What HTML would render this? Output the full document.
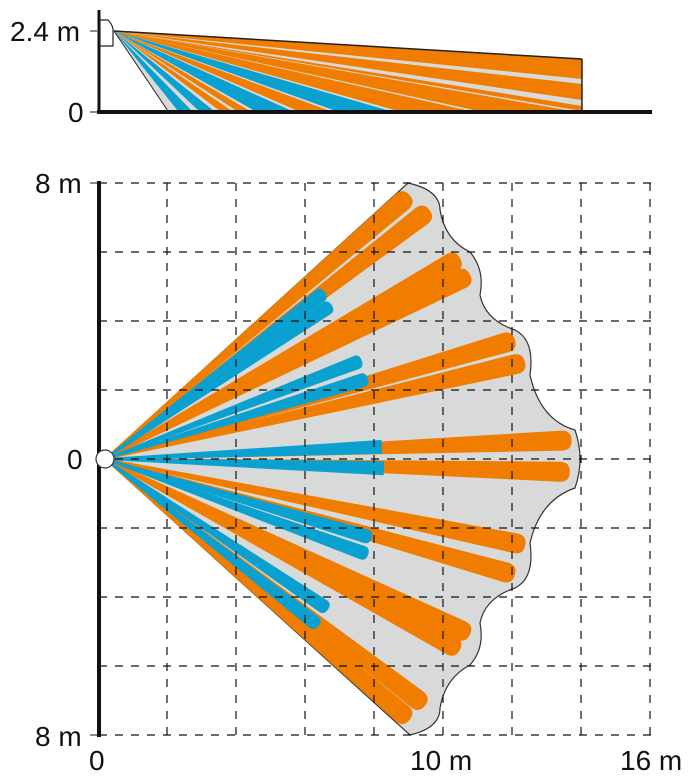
<!DOCTYPE html>
<html><head><meta charset="utf-8"><style>
html,body{margin:0;padding:0;background:#fff}
svg{display:block}
text{font-family:"Liberation Sans",sans-serif;font-size:28px;fill:#111}
</style></head><body>
<svg width="692" height="777" viewBox="0 0 692 777">
<!-- TOP ELEVATION -->
<polygon points="114,31 168,111 582,111 582,59" fill="#d8d9d9"/>
<g>
<polygon points="114,31 178,111 192,111" fill="#0aa0d0"/>
<polygon points="114,31 199,111 214,111" fill="#0aa0d0"/>
<polygon points="114,31 220,111 232,111" fill="#f07d00"/>
<polygon points="114,31 237,111 250,111" fill="#f07d00"/>
<polygon points="114,31 255,111 292,111" fill="#0aa0d0"/>
<polygon points="114,31 298,111 330,111" fill="#f07d00"/>
<polygon points="114,31 336,111 390,111" fill="#0aa0d0"/>
<polygon points="114,31 398,111 470,111" fill="#f07d00"/>
<polygon points="114,31 478,111 572,111" fill="#f07d00"/>
<polygon points="114,31 582,100 582,84" fill="#f07d00"/>
<polygon points="114,31 582,79 582,59" fill="#f07d00"/>
<polygon points="114,31 582,111 582,106" fill="#f07d00"/>
</g>
<line x1="114" y1="31" x2="582" y2="59" stroke="#222" stroke-width="1.5"/>
<line x1="114" y1="31" x2="168" y2="111" stroke="#222" stroke-width="1"/>
<line x1="582" y1="59" x2="582" y2="111" stroke="#222" stroke-width="1.5"/>
<line x1="99" y1="10" x2="99" y2="113" stroke="#111" stroke-width="3"/>
<line x1="97" y1="112" x2="652" y2="112" stroke="#111" stroke-width="4"/>
<path d="M100,20 L108,20 Q114,26 113,33 L113,46 L100,46 Z" fill="#fff" stroke="#222" stroke-width="1.2"/>
<line x1="90" y1="31" x2="97" y2="31" stroke="#111" stroke-width="1"/>
<line x1="90" y1="112" x2="97" y2="112" stroke="#111" stroke-width="1"/>
<text x="10" y="41">2.4 m</text>
<text x="68" y="122">0</text>

<!-- MAIN PLAN -->
<path d="M105,459 L408,183 Q440,190 440,210 Q445,240 470,252 Q485,270 480,295 Q485,320 515,330 Q535,340 530,375 Q540,420 575,430 Q585,459 575,488 Q540,500 530,543 Q535,578 515,588 Q485,598 480,623 Q485,648 470,665 Q445,678 440,708 Q440,728 410,735 Z" fill="#d8d9d9" stroke="#333" stroke-width="1.2"/>
<g fill="#f07d00">
<path transform="rotate(-40.9 105 459)" d="M112,458 L498,449 Q508,449 508,459 Q508,469 498,469 L112,460 Z"/>
<path transform="rotate(-37.5 105 459)" d="M112,458 L504,449 Q514,449 514,459 Q514,469 504,469 L112,460 Z"/>
<path transform="rotate(-29.5 105 459)" d="M112,458 L503,449 Q513,449 513,459 Q513,469 503,469 L112,460 Z"/>
<path transform="rotate(-26.8 105 459)" d="M112,458 L504,449 Q514,449 514,459 Q514,469 504,469 L112,460 Z"/>
<path transform="rotate(-16.2 105 459)" d="M112,458 L522,449 Q532,449 532,459 Q532,469 522,469 L112,460 Z"/>
<path transform="rotate(-13 105 459)" d="M112,458 L526,449 Q536,449 536,459 Q536,469 526,469 L112,460 Z"/>
<path transform="rotate(-2.3 105 459)" d="M112,458 L562,449 Q572,449 572,459 Q572,469 562,469 L112,460 Z"/>
<path transform="rotate(1.6 105 459)" d="M112,458 L560,449 Q570,449 570,459 Q570,469 560,469 L112,460 Z"/>
<path transform="rotate(11.6 105 459)" d="M112,458 L524,449 Q534,449 534,459 Q534,469 524,469 L112,460 Z"/>
<path transform="rotate(15.8 105 459)" d="M112,458 L521,449 Q531,449 531,459 Q531,469 521,469 L112,460 Z"/>
<path transform="rotate(25.7 105 459)" d="M112,458 L500,449 Q510,449 510,459 Q510,469 500,469 L112,460 Z"/>
<path transform="rotate(28.3 105 459)" d="M112,458 L498,449 Q508,449 508,459 Q508,469 498,469 L112,460 Z"/>
<path transform="rotate(37.6 105 459)" d="M112,458 L499,449 Q509,449 509,459 Q509,469 499,469 L112,460 Z"/>
<path transform="rotate(40.6 105 459)" d="M112,458 L496,449 Q506,449 506,459 Q506,469 496,469 L112,460 Z"/>
</g>
<g fill="#0aa0d0">
<path transform="rotate(-37.2 105 459)" d="M112,458 L375,452 Q381,452 381,459 Q381,466 375,466 L112,460 Z"/>
<path transform="rotate(-34.2 105 459)" d="M112,458 L373,452 Q379,452 379,459 Q379,466 373,466 L112,460 Z"/>
<path transform="rotate(-21 105 459)" d="M112,458 L374,452 Q380,452 380,459 Q380,466 374,466 L112,460 Z"/>
<path transform="rotate(-17 105 459)" d="M112,458 L374,452 Q380,452 380,459 Q380,466 374,466 L112,460 Z"/>
<path transform="rotate(-2.5 105 459)" d="M112,458 L382,452 L382,466 L112,460 Z"/>
<path transform="rotate(1.9 105 459)" d="M112,458 L384,452 L384,466 L112,460 Z"/>
<path transform="rotate(16.5 105 459)" d="M112,458 L377,452 Q383,452 383,459 Q383,466 377,466 L112,460 Z"/>
<path transform="rotate(20 105 459)" d="M112,458 L379,452 Q385,452 385,459 Q385,466 379,466 L112,460 Z"/>
<path transform="rotate(34 105 459)" d="M112,458 L368,452 Q374,452 374,459 Q374,466 368,466 L112,460 Z"/>
<path transform="rotate(38 105 459)" d="M112,458 L370,452 Q376,452 376,459 Q376,466 370,466 L112,460 Z"/>
</g>
<!-- grid -->
<g stroke="#111" stroke-width="1.2" stroke-dasharray="8,8">
<line x1="99" y1="183" x2="652" y2="183"/>
<line x1="99" y1="252" x2="652" y2="252"/>
<line x1="99" y1="321" x2="652" y2="321"/>
<line x1="99" y1="390" x2="652" y2="390"/>
<line x1="99" y1="459" x2="652" y2="459"/>
<line x1="99" y1="528" x2="652" y2="528"/>
<line x1="99" y1="597" x2="652" y2="597"/>
<line x1="99" y1="666" x2="652" y2="666"/>
<line x1="99" y1="735" x2="652" y2="735"/>
<line x1="167" y1="183" x2="167" y2="735"/>
<line x1="236" y1="183" x2="236" y2="735"/>
<line x1="305" y1="183" x2="305" y2="735"/>
<line x1="374" y1="183" x2="374" y2="735"/>
<line x1="443" y1="183" x2="443" y2="741"/>
<line x1="512" y1="183" x2="512" y2="735"/>
<line x1="581" y1="183" x2="581" y2="735"/>
<line x1="650" y1="183" x2="650" y2="741"/>
</g>
<line x1="99" y1="181" x2="99" y2="737" stroke="#111" stroke-width="4"/>
<line x1="90" y1="183" x2="97" y2="183" stroke="#111" stroke-width="1"/>
<line x1="90" y1="735" x2="97" y2="735" stroke="#111" stroke-width="1"/>
<circle cx="105" cy="459" r="9" fill="#fff" stroke="#333" stroke-width="1.2"/>
<text x="35" y="193">8 m</text>
<text x="67" y="469">0</text>
<text x="35" y="746">8 m</text>
<text x="89" y="770">0</text>
<text x="410" y="770">10 m</text>
<text x="620" y="770">16 m</text>
</svg>
</body></html>
